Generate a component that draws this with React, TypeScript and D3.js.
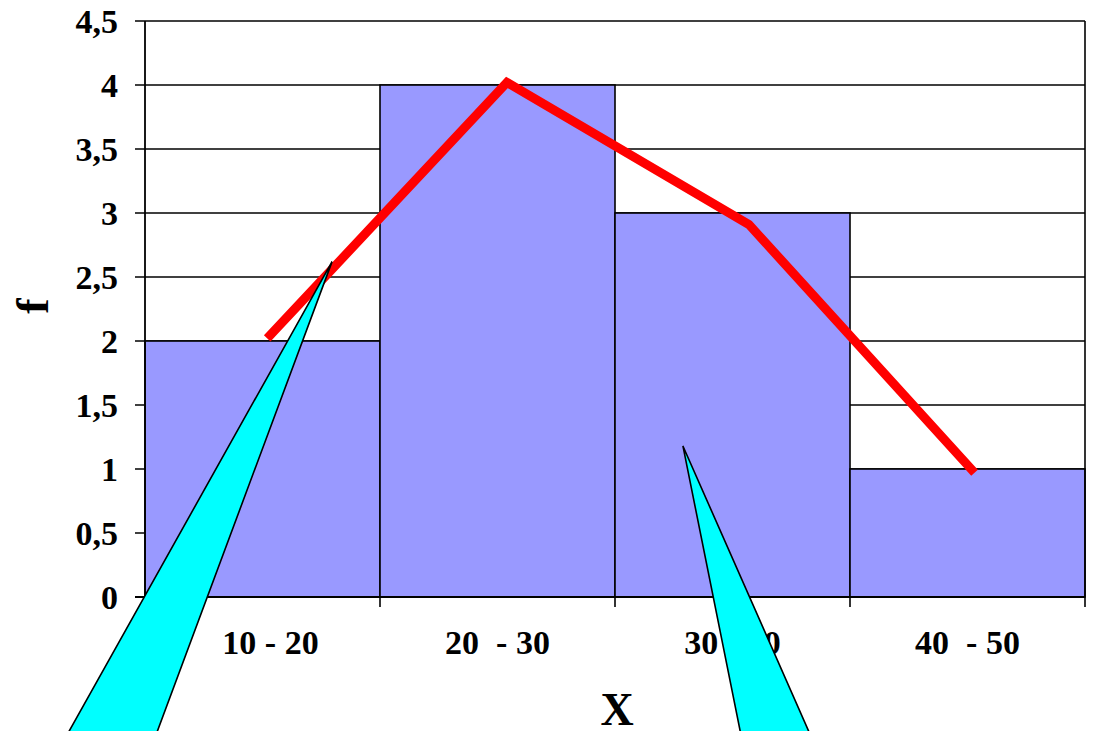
import React from 'react';
import * as d3 from 'd3';

// интервалы и частоты
const categories = ['10 - 20', '20  - 30', '30 - 40', '40  - 50'];
const binEdges = [10, 20, 30, 40, 50];
const frequencies = [2, 4, 3, 1];

// полигон частот (точки)
const polygonX = [15.2, 25.4, 35.7, 45.3];
const polygonY = [2.02, 4.02, 2.91, 0.97];

const yTicks = [0, 0.5, 1, 1.5, 2, 2.5, 3, 3.5, 4, 4.5];

// выноски (в единицах данных)
const callouts: [number, number][][] = [
  [[17.96, 2.62], [6.43, -1.16], [10.3, -1.16]],
  [[32.89, 1.18], [35.45, -1.16], [38.51, -1.16]]
];

const W = 1094;
const H = 731;
const left = 145;
const right = 1085;
const top = 21;
const bottom = 597;

const fmt = (v: number) => String(v).replace('.', ',');

export default function App() {
  const x = d3.scaleLinear().domain([10, 50]).range([left, right]);
  const y = d3.scaleLinear().domain([0, 4.5]).range([bottom, top]);

  const line = d3.line<number>()
    .x((_, i) => x(polygonX[i]))
    .y(d => y(d))
    .curve(d3.curveLinear);

  const font = '"Liberation Serif", "Times New Roman", serif';

  return (
    <div style={{ position: 'fixed', left: 0, top: 0 }}>
      <svg width={W} height={H} style={{ display: 'block', background: '#fff' }}>
        {/* сетка */}
        {yTicks.map(t => (
          <g key={t}>
            <line x1={left - 10} x2={right} y1={y(t)} y2={y(t)} stroke="#000" strokeWidth={1.6} />
            <text
              x={118}
              y={y(t)}
              dy="0.35em"
              textAnchor="end"
              fontFamily={font}
              fontWeight="bold"
              fontSize={34}
            >
              {fmt(t)}
            </text>
          </g>
        ))}

        {/* столбцы */}
        {frequencies.map((f, i) => (
          <rect
            key={i}
            x={x(binEdges[i])}
            y={y(f)}
            width={x(binEdges[i + 1]) - x(binEdges[i])}
            height={y(0) - y(f)}
            fill="#9999ff"
            stroke="#000"
            strokeWidth={1.6}
          />
        ))}

        {/* оси */}
        <line x1={left} x2={left} y1={y(4.5)} y2={y(0)} stroke="#000" strokeWidth={1.8} />
        <line x1={right} x2={right} y1={y(4.5)} y2={y(0)} stroke="#000" strokeWidth={1.6} />
        <line x1={left - 10} x2={right} y1={y(0)} y2={y(0)} stroke="#000" strokeWidth={1.8} />
        {binEdges.map(e => (
          <line key={e} x1={x(e)} x2={x(e)} y1={y(0)} y2={y(0) + 10} stroke="#000" strokeWidth={1.6} />
        ))}

        {categories.map((c, i) => (
          <text
            key={c}
            x={x((binEdges[i] + binEdges[i + 1]) / 2) + (i === 0 ? 8 : 0)}
            y={654}
            textAnchor="middle"
            fontFamily={font}
            fontWeight="bold"
            fontSize={34}
            style={{ whiteSpace: 'pre' }}
          >
            {c}
          </text>
        ))}

        <text x={617} y={725} textAnchor="middle" fontFamily={font} fontWeight="bold" fontSize={46}>
          X
        </text>
        <text
          transform="translate(48,306) rotate(-90)"
          textAnchor="middle"
          fontFamily={font}
          fontWeight="bold"
          fontSize={46}
        >
          f
        </text>

        {/* полигон */}
        <path
          d={line(polygonY) || ''}
          fill="none"
          stroke="#ff0000"
          strokeWidth={9}
          strokeLinejoin="miter"
          strokeLinecap="butt"
        />

        {/* выноски */}
        {callouts.map((pts, i) => (
          <polygon
            key={i}
            points={pts.map(p => `${x(p[0])},${y(p[1])}`).join(' ')}
            fill="#00ffff"
            stroke="#000"
            strokeWidth={1.6}
          />
        ))}
      </svg>
    </div>
  );
}
